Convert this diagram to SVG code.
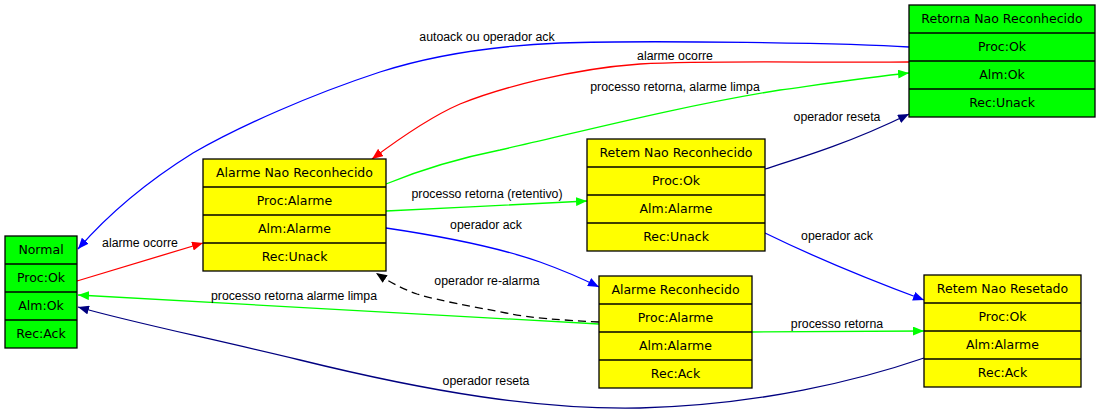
<svg xmlns="http://www.w3.org/2000/svg" width="1101" height="414" viewBox="0 0 1101 414">
<defs>
<style>
.box rect{stroke:#000;stroke-width:1.3}
.g rect{fill:#00ff00}
.y rect{fill:#ffff00}
.box line{stroke:#000;stroke-width:1.3}
.nt{font-family:"DejaVu Sans",sans-serif;font-size:12.5px;text-anchor:middle;fill:#000}
.el{font-family:"Liberation Sans",Arial,sans-serif;font-size:12.3px;text-anchor:middle;fill:#000}
.e{fill:none;stroke-width:1.3}
</style>
<marker id="aB" markerWidth="11" markerHeight="9" refX="11" refY="4.5" orient="auto" markerUnits="userSpaceOnUse"><path d="M0,0 L11,4.5 L0,9 Z" fill="#0000ff"/></marker>
<marker id="aR" markerWidth="11" markerHeight="9" refX="11" refY="4.5" orient="auto" markerUnits="userSpaceOnUse"><path d="M0,0 L11,4.5 L0,9 Z" fill="#ff0000"/></marker>
<marker id="aG" markerWidth="11" markerHeight="9" refX="11" refY="4.5" orient="auto" markerUnits="userSpaceOnUse"><path d="M0,0 L11,4.5 L0,9 Z" fill="#00ff00"/></marker>
<marker id="aN" markerWidth="11" markerHeight="9" refX="11" refY="4.5" orient="auto" markerUnits="userSpaceOnUse"><path d="M0,0 L11,4.5 L0,9 Z" fill="#000080"/></marker>
<marker id="aK" markerWidth="11" markerHeight="9" refX="11" refY="4.5" orient="auto" markerUnits="userSpaceOnUse"><path d="M0,0 L11,4.5 L0,9 Z" fill="#000000"/></marker>
</defs>
<rect width="1101" height="414" fill="#fff"/>

<g id="connectors">
<path class="e" stroke="#0000ff" marker-end="url(#aB)" d="M909,47 C850,43 650,40 560,43 C490,46 430,56 380,72 C310,95 240,126 193,153 C140,186 105,218 78,249"/>
<path class="e" stroke="#ff0000" marker-end="url(#aR)" d="M909,62 C820,63 720,60 640,64 C570,69 500,88 460,104 C430,117 400,138 372,159"/>
<path class="e" stroke="#00ff00" marker-end="url(#aG)" d="M386,184 C420,170 460,158 500,150 C580,132 680,106 780,90 C830,83 870,77 909,73"/>
<path class="e" stroke="#000080" marker-end="url(#aN)" d="M765,169 C800,158 850,143 909,114"/>
<path class="e" stroke="#00ff00" marker-end="url(#aG)" d="M386,211 C450,208 530,204 587,201"/>
<path class="e" stroke="#0000ff" marker-end="url(#aB)" d="M386,228 C440,236 500,248 540,262 C565,271 585,280 599,287"/>
<path class="e" stroke="#0000ff" marker-end="url(#aB)" d="M765,233 C810,255 870,280 924,300"/>
<path class="e" stroke="#000000" stroke-dasharray="8,5" marker-end="url(#aK)" d="M599,322 C560,320 530,318 506,313 C470,306 440,301 417,294 C400,288 388,281 376,273"/>
<path class="e" stroke="#00ff00" marker-end="url(#aG)" d="M599,324 L78,295"/>
<path class="e" stroke="#00ff00" marker-end="url(#aG)" d="M752,332 L924,331"/>
<path class="e" stroke="#000080" marker-end="url(#aN)" d="M924,358 C860,380 760,405 640,408 C540,410 430,392 300,360 C200,336 130,322 78,307"/>
<path class="e" stroke="#ff0000" marker-end="url(#aR)" d="M77,281 L203,243"/>
<text class="el" x="487" y="41">autoack ou operador ack</text>
<text class="el" x="675" y="60">alarme ocorre</text>
<text class="el" x="675" y="91">processo retorna, alarme limpa</text>
<text class="el" x="837" y="121">operador reseta</text>
<text class="el" x="487" y="198">processo retorna (retentivo)</text>
<text class="el" x="486" y="229">operador ack</text>
<text class="el" x="837" y="240">operador ack</text>
<text class="el" x="487" y="285">operador re-alarma</text>
<text class="el" x="294" y="300">processo retorna alarme limpa</text>
<text class="el" x="837" y="328">processo retorna</text>
<text class="el" x="486" y="385">operador reseta</text>
<text class="el" x="140" y="247">alarme ocorre</text>
</g>

<g id="normal" class="box g">
<rect x="5" y="236" width="72" height="112"/>
<line x1="5" y1="264" x2="77" y2="264"/><line x1="5" y1="292" x2="77" y2="292"/><line x1="5" y1="320" x2="77" y2="320"/>
<text class="nt" x="41" y="254">Normal</text>
<text class="nt" x="41" y="282">Proc:Ok</text>
<text class="nt" x="41" y="310">Alm:Ok</text>
<text class="nt" x="41" y="338">Rec:Ack</text>
</g>

<g id="alarme-nao-reconhecido" class="box y">
<rect x="203" y="159" width="183" height="112"/>
<line x1="203" y1="187" x2="386" y2="187"/><line x1="203" y1="215" x2="386" y2="215"/><line x1="203" y1="243" x2="386" y2="243"/>
<text class="nt" x="294.5" y="177">Alarme Nao Reconhecido</text>
<text class="nt" x="294.5" y="205">Proc:Alarme</text>
<text class="nt" x="294.5" y="233">Alm:Alarme</text>
<text class="nt" x="294.5" y="261">Rec:Unack</text>
</g>

<g id="retem-nao-reconhecido" class="box y">
<rect x="587" y="139" width="178" height="112"/>
<line x1="587" y1="167" x2="765" y2="167"/><line x1="587" y1="195" x2="765" y2="195"/><line x1="587" y1="223" x2="765" y2="223"/>
<text class="nt" x="676" y="157">Retem Nao Reconhecido</text>
<text class="nt" x="676" y="185">Proc:Ok</text>
<text class="nt" x="676" y="213">Alm:Alarme</text>
<text class="nt" x="676" y="241">Rec:Unack</text>
</g>

<g id="retorna-nao-reconhecido" class="box g">
<rect x="909" y="5" width="186" height="112"/>
<line x1="909" y1="33" x2="1095" y2="33"/><line x1="909" y1="61" x2="1095" y2="61"/><line x1="909" y1="89" x2="1095" y2="89"/>
<text class="nt" x="1002" y="23">Retorna Nao Reconhecido</text>
<text class="nt" x="1002" y="51">Proc:Ok</text>
<text class="nt" x="1002" y="79">Alm:Ok</text>
<text class="nt" x="1002" y="107">Rec:Unack</text>
</g>

<g id="alarme-reconhecido" class="box y">
<rect x="599" y="276" width="153" height="112"/>
<line x1="599" y1="304" x2="752" y2="304"/><line x1="599" y1="332" x2="752" y2="332"/><line x1="599" y1="360" x2="752" y2="360"/>
<text class="nt" x="675.5" y="294">Alarme Reconhecido</text>
<text class="nt" x="675.5" y="322">Proc:Alarme</text>
<text class="nt" x="675.5" y="350">Alm:Alarme</text>
<text class="nt" x="675.5" y="378">Rec:Ack</text>
</g>

<g id="retem-nao-resetado" class="box y">
<rect x="924" y="275" width="157" height="112"/>
<line x1="924" y1="303" x2="1081" y2="303"/><line x1="924" y1="331" x2="1081" y2="331"/><line x1="924" y1="359" x2="1081" y2="359"/>
<text class="nt" x="1002.5" y="293">Retem Nao Resetado</text>
<text class="nt" x="1002.5" y="321">Proc:Ok</text>
<text class="nt" x="1002.5" y="349">Alm:Alarme</text>
<text class="nt" x="1002.5" y="377">Rec:Ack</text>
</g>
</svg>
